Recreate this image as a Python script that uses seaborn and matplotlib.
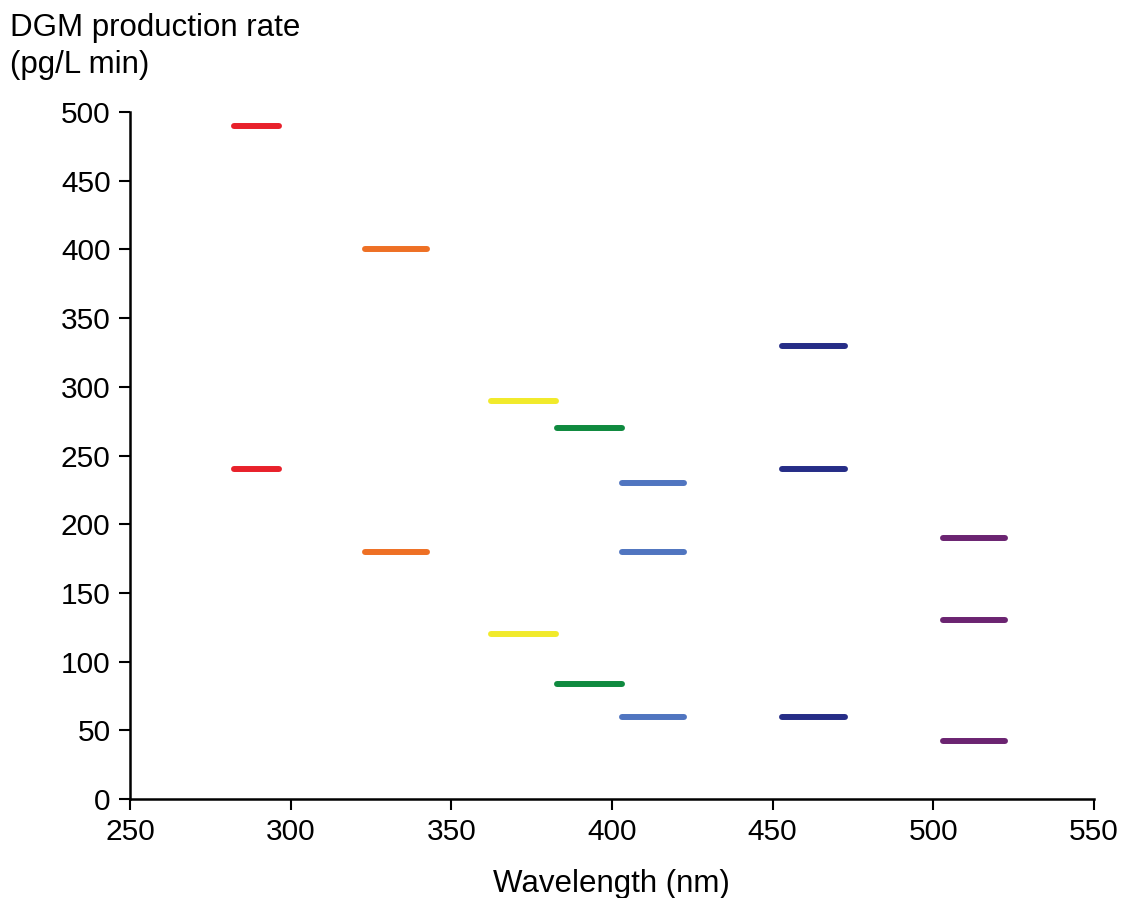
import matplotlib
matplotlib.use("Agg")
import matplotlib.pyplot as plt
import seaborn as sns
import pandas as pd

# Data: LED bands (start/end wavelength, nm) and DGM production rates
band_names = ["red", "orange", "yellow", "green", "lightblue", "navy", "purple"]
band_start = [282.5, 323.0, 362.5, 383.0, 403.0, 453.0, 503.0]
band_end = [296.5, 342.5, 382.5, 403.0, 422.5, 472.5, 522.5]
rates = [
    [490, 240],
    [400, 180],
    [290, 120],
    [270, 84],
    [230, 180, 60],
    [330, 240, 60],
    [190, 130, 42],
]
band_colors = ["#E8212B", "#EE7025", "#F1EA2B", "#0F8A3F", "#5075C0", "#262D87", "#6B2471"]

x_ticks = [250, 300, 350, 400, 450, 500, 550]
y_ticks = [0, 50, 100, 150, 200, 250, 300, 350, 400, 450, 500]

rows = []
uid = 0
for name, s, e, vals in zip(band_names, band_start, band_end, rates):
    for v in vals:
        rows.append({"band": name, "wl": s, "rate": v, "uid": uid})
        rows.append({"band": name, "wl": e, "rate": v, "uid": uid})
        uid += 1
df = pd.DataFrame(rows)

sns.set_theme(style="ticks")
plt.rcParams["font.family"] = ["Liberation Sans", "DejaVu Sans"]
plt.rcParams["text.color"] = "black"
plt.rcParams["axes.labelcolor"] = "black"

fig = plt.figure(figsize=(11.23, 8.98), dpi=100)
ax = fig.add_axes([0.1158, 0.1102, 0.8582, 0.7651])

sns.lineplot(data=df, x="wl", y="rate", hue="band", units="uid", estimator=None,
             palette=dict(zip(band_names, band_colors)), hue_order=band_names,
             linewidth=4.3, legend=False, ax=ax, solid_capstyle="round")

ax.set_xlim(250, 550)
ax.set_ylim(0, 500)
ax.set_xticks(x_ticks)
ax.set_yticks(y_ticks)
ax.tick_params(axis="both", labelsize=21.5, length=8, width=1.5, direction="out",
               colors="black", labelcolor="black", pad=6)
for side in ["top", "right"]:
    ax.spines[side].set_visible(False)
for side in ["left", "bottom"]:
    ax.spines[side].set_linewidth(1.8)
    ax.spines[side].set_color("black")

ax.set_xlabel("Wavelength (nm)", fontsize=22.5, labelpad=16, color="black")
ax.set_ylabel("")
fig.text(0.009, 0.985, "DGM production rate\n(pg/L min)", fontsize=22.5,
         ha="left", va="top", linespacing=1.3, color="black")

fig.savefig("out.png", dpi=100, facecolor="white")
